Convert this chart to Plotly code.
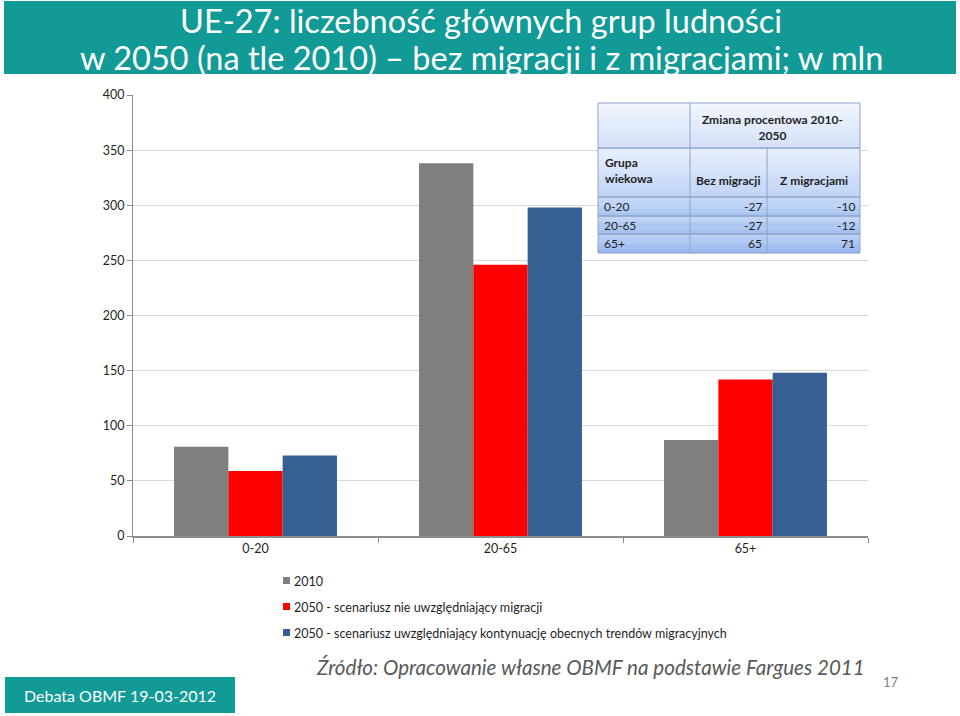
import plotly.graph_objects as go

# ---------------- data ----------------
categories = ["0-20", "20-65", "65+"]
series_names = [
    "2010",
    "2050 - scenariusz nie uwzględniający migracji",
    "2050 - scenariusz uwzględniający kontynuację obecnych trendów migracyjnych",
]
values_2010 = [81, 338, 87]
values_2050_no_mig = [59, 246, 142]
values_2050_mig = [73, 298, 148]
series_colors = ["#7F7F7F", "#FF0000", "#376092"]
y_ticks = [0, 50, 100, 150, 200, 250, 300, 350, 400]

table_groups = ["0-20", "20-65", "65+"]
table_no_mig = [-27, -27, 65]
table_mig = [-10, -12, 71]

title_line1 = "UE-27: liczebność głównych grup ludności"
title_line2 = "w 2050 (na tle 2010) – bez migracji i z migracjami; w mln"
source_text = "Źródło: Opracowanie własne OBMF na podstawie Fargues 2011"
footer_text = "Debata OBMF 19-03-2012"
page_no = "17"

# ---------------- layout helpers ----------------
W, H = 960, 716
L, R, T, B = 133, 868, 95, 536  # plot area in page pixels
FONT = "Lato"
TEAL = "#119A96"


def px(x):
    return (x - L) / (R - L)


def py(y):
    return (B - y) / (B - T)


def hex2rgb(h):
    h = h.lstrip("#")
    return [int(h[i:i + 2], 16) for i in (0, 2, 4)]


def mix(c1, c2, t):
    a, b = hex2rgb(c1), hex2rgb(c2)
    return "rgb(%d,%d,%d)" % tuple(round(a[i] + (b[i] - a[i]) * t) for i in range(3))


fig = go.Figure()
for name, vals, col in zip(series_names,
                           [values_2010, values_2050_no_mig, values_2050_mig],
                           series_colors):
    fig.add_trace(go.Bar(x=categories, y=vals, name=name, marker_color=col,
                         marker_line_width=0, showlegend=False))

shapes = []
annotations = []


def rect(x0, y0, x1, y1, fill, line=None, layer="above"):
    d = dict(type="rect", xref="paper", yref="paper", x0=px(x0), x1=px(x1),
             y0=py(y1), y1=py(y0), fillcolor=fill, layer=layer)
    d["line"] = line if line else dict(width=0)
    shapes.append(d)


def text(s, x, y, size, color, xanchor="center", align="center", family=FONT):
    annotations.append(dict(text=s, x=px(x), y=py(y), xref="paper", yref="paper",
                            showarrow=False, font=dict(family=family, size=size, color=color),
                            xanchor=xanchor, yanchor="middle", align=align))


# title bar
rect(4, 1, 956, 74, TEAL)
text(title_line1, 481, 21, 32.5, "white")
text(title_line2, 481, 57, 32.5, "white")

# footer
rect(5, 677, 235, 713, TEAL)
text(footer_text, 120, 695, 16, "white")
text("<i>" + source_text + "</i>", 590, 667, 20.6, "#595959")
text(page_no, 891, 682, 13, "#7F7F7F")

# manual legend
leg_y = [581, 607, 633]
for name, col, yy in zip(series_names, series_colors, leg_y):
    rect(283, yy - 4, 290, yy + 3, col)
    text(name, 292, yy, 12.5, "#1F1F1F", xanchor="left", align="left")

# ---------------- embedded table ----------------
cx = [598, 690, 767, 860]
ry = [103, 148, 197, 216, 234, 253]
row_grad = [("#F0F5FE", "#D4E1F8"), ("#E6EEFC", "#C2D5F6"),
            ("#C7D9F7", "#A9C4F2"), ("#C0D4F6", "#A2BFF1"), ("#B8CEF5", "#99B8F0")]
border = "#8EA4C8"
NSTRIP = 8
for i in range(5):
    h = (ry[i + 1] - ry[i]) / NSTRIP
    for k in range(NSTRIP):
        rect(cx[0], ry[i] + k * h, cx[3], ry[i] + (k + 1) * h + 0.3,
             mix(row_grad[i][0], row_grad[i][1], k / (NSTRIP - 1)))
for i in range(5):
    rect(cx[0], ry[i], cx[3], ry[i + 1], "rgba(0,0,0,0)", line=dict(color=border, width=1))
shapes.append(dict(type="line", xref="paper", yref="paper", x0=px(cx[1]), x1=px(cx[1]),
                   y0=py(ry[5]), y1=py(ry[0]), line=dict(color=border, width=1), layer="above"))
shapes.append(dict(type="line", xref="paper", yref="paper", x0=px(cx[2]), x1=px(cx[2]),
                   y0=py(ry[5]), y1=py(ry[1]), line=dict(color=border, width=1), layer="above"))

TC = "#1F1F1F"
text("<b>Zmiana procentowa 2010-<br>2050</b>", 772, 127, 12, TC)
text("<b>Grupa<br>wiekowa</b>", 603, 170, 12, TC, xanchor="left", align="left")
text("<b>Bez migracji</b>", 728, 180, 12, TC)
text("<b>Z migracjami</b>", 814, 180, 12, TC)
for i, g in enumerate(table_groups):
    yc = (ry[i + 2] + ry[i + 3]) / 2
    text(g, 602, yc, 12, TC, xanchor="left", align="left")
    text(str(table_no_mig[i]), 764, yc, 12, TC, xanchor="right", align="right")
    text(str(table_mig[i]), 857, yc, 12, TC, xanchor="right", align="right")

fig.update_layout(
    width=W, height=H,
    margin=dict(l=L, r=W - R, t=T, b=H - B, pad=0),
    paper_bgcolor="white", plot_bgcolor="white",
    barmode="group", bargap=0.335, bargroupgap=0,
    font=dict(family=FONT, size=12, color="#1F1F1F"),
    showlegend=False,
    xaxis=dict(showline=True, linecolor="#8C8C8C", linewidth=1.5,
               ticks="outside", tickson="boundaries", ticklen=5, tickcolor="#8C8C8C",
               tickfont=dict(family=FONT, size=12.5, color="#1F1F1F"), showgrid=False),
    yaxis=dict(range=[0, 400], tickvals=y_ticks, showline=True, linecolor="#8C8C8C",
               linewidth=1, ticks="outside", ticklen=5, tickcolor="#8C8C8C",
               gridcolor="#D9D9D9", gridwidth=1, zeroline=False,
               tickfont=dict(family=FONT, size=12.5, color="#1F1F1F")),
    shapes=shapes, annotations=annotations,
)

fig.write_html(
    "out.html",
    config={"displayModeBar": False},
    post_script="document.body.style.margin='0';document.body.style.overflow='hidden';",
)
